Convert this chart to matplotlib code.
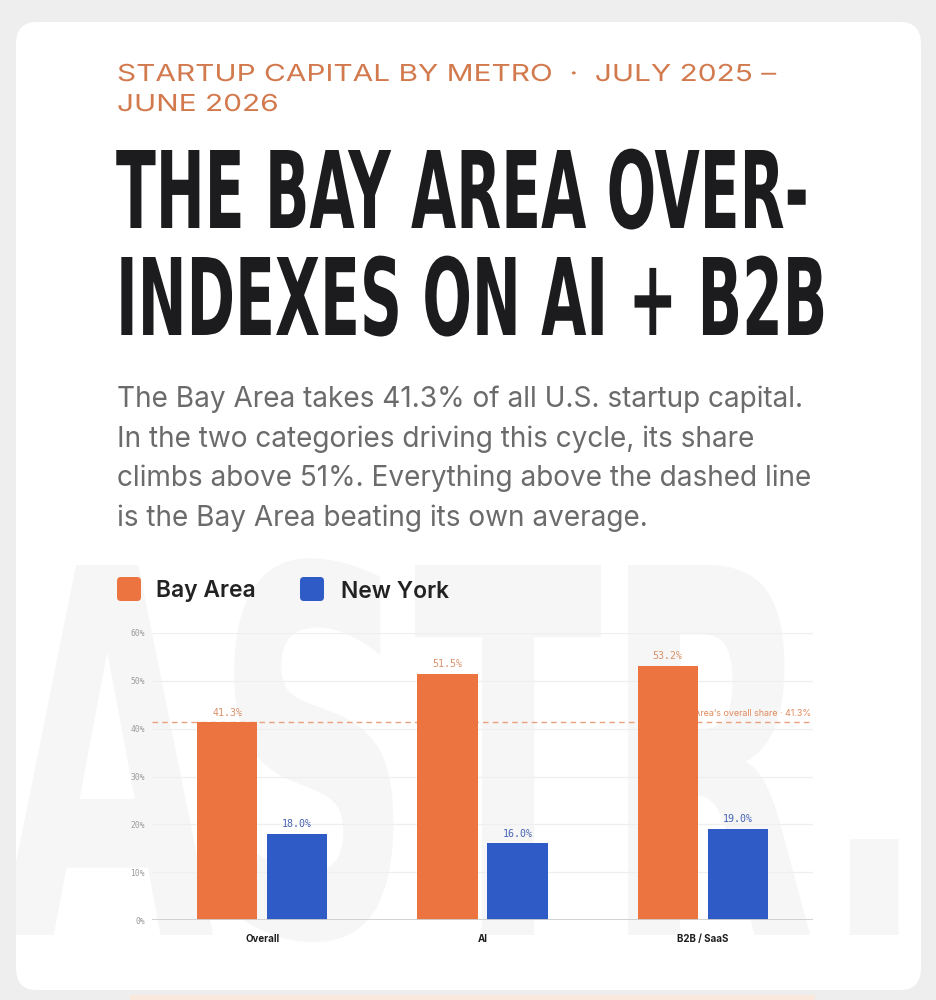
import numpy as np
import matplotlib
matplotlib.use("Agg")
import matplotlib.pyplot as plt
from matplotlib import font_manager as fm
from matplotlib.font_manager import FontProperties
from matplotlib.textpath import TextPath
from matplotlib.patheffects import AbstractPathEffect
from matplotlib.transforms import Affine2D
from matplotlib.patches import FancyBboxPatch, Rectangle

# ---------------- data ----------------
categories = ["Overall", "AI", "B2B / SaaS"]
series_names = ["Bay Area", "New York"]
bay_area = [41.3, 51.5, 53.2]
new_york = [18.0, 16.0, 19.0]
bay_overall_share = 41.3
y_ticks = [0, 10, 20, 30, 40, 50, 60]
y_tick_labels = ["0%", "10%", "20%", "30%", "40%", "50%", "60%"]

kicker_lines = ["STARTUP CAPITAL BY METRO  \u00b7  JULY 2025 \u2013", "JUNE 2026"]
title_lines = ["THE BAY AREA OVER-", "INDEXES ON AI + B2B"]
body_lines = [
    "The Bay Area takes 41.3% of all U.S. startup capital.",
    "In the two categories driving this cycle, its share",
    "climbs above 51%. Everything above the dashed line",
    "is the Bay Area beating its own average.",
]
ref_label = "Bay Area\u2019s overall share \u00b7 41.3%"
watermark = "ASTR."

# ---------------- style ----------------
ORANGE = "#EC7440"
BLUE = "#2E5BC6"
KICKER = "#D27A4E"
INK = "#1c1c1e"
BODY = "#6b6b6b"

W, H = 936, 1000
fig = plt.figure(figsize=(W / 100, H / 100), dpi=100)
fig.patch.set_facecolor("#eeeeee")
renderer = fig.canvas.get_renderer()


def fx(x):
    return x / W


def fy(y):
    return 1 - y / H


class Scale(AbstractPathEffect):
    """Draw the text glyphs scaled around the start of the baseline."""

    def __init__(self, sx=1.0, sy=1.0):
        super().__init__()
        self.sx = sx
        self.sy = sy

    def draw_path(self, renderer, gc, tpath, affine, rgbFace=None):
        renderer.draw_path(gc, tpath, Affine2D().scale(self.sx, self.sy) + affine, rgbFace)


def find_font(patterns):
    files = [f.fname for f in fm.fontManager.ttflist]
    for p in patterns:
        for f in files:
            base = f.split("/")[-1].lower()
            if base == p.lower():
                return FontProperties(fname=f)
    return None


cond = find_font([
    "NotoSans-ExtraCondensedBlack.ttf", "NotoSans-ExtraCondensedExtraBold.ttf",
    "NotoSans-ExtraCondensedBold.ttf", "NotoSans-CondensedBlack.ttf",
    "NotoSans-CondensedBold.ttf", "LiberationSansNarrow-Bold.ttf",
    "DejaVuSansCondensed-Bold.ttf",
])
if cond is None:
    cond = FontProperties(family="DejaVu Sans", weight="bold")


def cap_ratio(fp):
    return TextPath((0, 0), "H", size=100, prop=fp).get_extents().height / 100.0


def place_fit(text, x, y, fp, target_w, cap_px, color, zorder=3, size_ref=None):
    """Font size chosen so the line is target_w wide; glyphs then stretched
    vertically so their cap height is cap_px."""
    fp = fp.copy()
    fp.set_size(20)
    t = fig.text(fx(x), fy(y), text, fontproperties=fp, color=color,
                 ha="left", va="baseline", zorder=zorder)
    if size_ref is None:
        w = t.get_window_extent(renderer).width
        size = 20 * target_w / w
    else:
        size = size_ref
    t.set_fontsize(size)
    cap_now = cap_ratio(fp) * size * 100 / 72
    t.set_path_effects([Scale(1.0, cap_px / cap_now)])
    return t, size


# ---------------- card ----------------
card = FancyBboxPatch((fx(16), fy(990)), fx(921) - fx(16), fy(22) - fy(990),
                      boxstyle="round,pad=0,rounding_size=0.022",
                      transform=fig.transFigure, facecolor="white",
                      edgecolor="none", zorder=0)
fig.add_artist(card)
fig.add_artist(Rectangle((fx(130), 0), fx(815) - fx(130), fy(995),
                         transform=fig.transFigure, facecolor="#fbe8dc",
                         edgecolor="none", zorder=0))

# watermark
wm, _ = place_fit(watermark, 0, 935, cond, 925, 370, "#f6f6f6", zorder=0.5)
wm.set_clip_path(card)

# ---------------- header texts ----------------
inter_semi = FontProperties(family=["Inter", "DejaVu Sans"], weight=600)
inter_reg = FontProperties(family=["Inter", "DejaVu Sans"], weight="normal")
inter_bold = FontProperties(family=["Inter", "DejaVu Sans"], weight="bold")

k1, ksize = place_fit(kicker_lines[0], 117, 81, inter_reg, 661, 17, KICKER)
k2, _ = place_fit(kicker_lines[1], 117, 111, inter_reg, None, 17, KICKER, size_ref=ksize)

t1, tsize = place_fit(title_lines[0], 116, 228, cond, 692, 78, INK)
t2, _ = place_fit(title_lines[1], 116, 335, cond, None, 78, INK, size_ref=tsize)

# body
tb = fig.text(fx(117), fy(407), body_lines[0], fontproperties=inter_reg, color=BODY,
              ha="left", va="baseline")
tb.set_fontsize(18)
body_size = 18 * 686 / tb.get_window_extent(renderer).width
tb.set_fontsize(body_size)
for i, line in enumerate(body_lines[1:], start=1):
    fig.text(fx(117), fy(407 + 39.6 * i), line, fontproperties=inter_reg, color=BODY,
             ha="left", va="baseline", fontsize=body_size)

# legend
leg_items = [(117, series_names[0], ORANGE), (300, series_names[1], BLUE)]
for sx_, lab, col in leg_items:
    fig.add_artist(FancyBboxPatch((fx(sx_), fy(601)), fx(24), 24 / H,
                                  boxstyle="round,pad=0,rounding_size=0.004",
                                  transform=fig.transFigure, facecolor=col,
                                  edgecolor="none", zorder=3))
lt1 = fig.text(fx(156), fy(589), series_names[0], fontproperties=inter_semi,
               color="#222222", ha="left", va="center_baseline")
lt1.set_fontsize(16)
lsize = 16 * 100 / lt1.get_window_extent(renderer).width
lt1.set_fontsize(lsize)
fig.text(fx(341), fy(589), series_names[1], fontproperties=inter_semi,
         color="#222222", ha="left", va="center_baseline", fontsize=lsize)

# ---------------- chart ----------------
ax = fig.add_axes([fx(152), fy(920), fx(813) - fx(152), fy(633) - fy(920)])
ax.set_facecolor("none")
ax.set_zorder(2)
x = np.arange(len(categories))
bw = 0.273
off = 0.159
ax.bar(x - off, bay_area, width=bw, color=ORANGE, zorder=3)
ax.bar(x + off, new_york, width=bw, color=BLUE, zorder=3)

ax.set_xlim(-0.5, 2.5)
ax.set_ylim(0, 60)
ax.set_yticks(y_ticks)
ax.set_yticklabels(y_tick_labels, family="DejaVu Sans Mono", fontsize=5.8,
                   color="#9c9c9c")
ax.tick_params(axis="y", length=0, pad=5)
ax.set_xticks(x)
ax.set_xticklabels(categories, fontproperties=inter_bold, fontsize=7,
                   color="#1e1e1e")
ax.tick_params(axis="x", length=0, pad=10)
for s in ax.spines.values():
    s.set_visible(False)
for yv in y_ticks[1:]:
    ax.axhline(yv, color="#efefef", lw=0.9, zorder=1)
ax.axhline(0, color="#cfcfcf", lw=1.3, zorder=4)

ax.axhline(bay_overall_share, color="#eaa27c", lw=1.0, ls=(0, (4, 3)), zorder=1.5)
ax.text(2.49, bay_overall_share + 1.0, ref_label, ha="right", va="bottom",
        fontsize=6.4, color="#e08a5c", family=["Inter", "DejaVu Sans"], zorder=1.6)

for xi, v in zip(x - off, bay_area):
    ax.text(xi, v + 1.0, f"{v:.1f}%", ha="center", va="bottom",
            family="DejaVu Sans Mono", fontsize=7.2, color="#d9916a", zorder=5)
for xi, v in zip(x + off, new_york):
    ax.text(xi, v + 1.0, f"{v:.1f}%", ha="center", va="bottom",
            family="DejaVu Sans Mono", fontsize=7.2, color="#4662b4", zorder=5)

fig.savefig("out.png", dpi=100, facecolor=fig.get_facecolor())
